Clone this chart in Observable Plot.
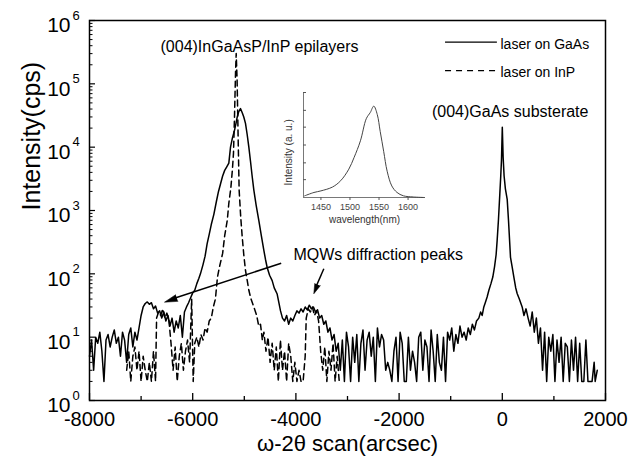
<!DOCTYPE html>
<html>
<head>
<meta charset="utf-8">
<script src="https://cdn.jsdelivr.net/npm/d3@7"></script>
<script src="https://cdn.jsdelivr.net/npm/@observablehq/plot@0.6"></script>
<style>
  html, body { margin: 0; padding: 0; background: #fff; }
  #wrap { position: relative; width: 641px; height: 466px; overflow: hidden; background: #fff; }
  #inset { position: absolute; left: 265px; top: 78px; }
</style>
</head>
<body>
<div id="wrap"><div id="main"></div><div id="inset"></div></div>
<script>
// ---- data: omega-2theta scan (arcsec, cps) ----
const gaasScan = [
  [-8000,5],[-7960,9],[-7920,3],[-7880,10],[-7840,8],[-7800,12],[-7760,6],[-7720,2],[-7680,9],[-7640,11],
  [-7600,7],[-7560,10],[-7520,13],[-7480,8],[-7440,10],[-7400,5],[-7360,12],[-7320,9],[-7280,4],[-7240,11],
  [-7200,14],[-7160,7],[-7120,12],[-7080,9],
  [-7040,14],[-7000,22],[-6960,30],[-6920,34],[-6880,36],[-6840,33],[-6800,35],[-6760,28],[-6720,31],[-6680,24],
  [-6640,26],[-6600,20],[-6560,25],[-6520,18],[-6480,22],[-6440,15],[-6400,20],[-6360,12],[-6320,18],[-6280,14],
  [-6240,22],[-6200,10],[-6160,25],[-6120,30],[-6080,35],[-6040,42],[-6000,50],
  [-5960,55],[-5920,70],[-5880,85],[-5850,100],[-5800,140],[-5760,190],[-5720,300],[-5680,420],[-5640,600],
  [-5590,870],[-5540,1400],[-5500,2000],[-5460,2650],[-5420,3500],[-5380,4300],[-5340,4900],[-5300,5600],
  [-5267,10000],[-5230,14000],[-5190,18400],[-5160,24000],[-5138,29700],[-5110,36000],[-5074,40600],
  [-5040,35000],[-5010,30000],[-4977,23700],[-4945,16000],[-4912,10000],[-4880,6000],[-4850,3600],[-4815,2100],
  [-4770,1200],[-4718,690],[-4670,400],[-4621,235],[-4590,170],[-4557,126],[-4510,95],[-4460,78],[-4420,60],
  [-4363,48],[-4330,35],[-4298,26],[-4260,20],[-4220,18],[-4180,22],[-4140,16],[-4100,20],[-4060,18],
  [-4020,22],[-3980,26],[-3940,24],[-3900,28],[-3860,25],[-3820,30],[-3780,27],[-3740,32],[-3700,28],[-3660,30],
  [-3620,25],[-3580,27],[-3540,20],[-3500,22],[-3460,16],[-3420,18],[-3380,12],[-3340,14],[-3300,9],[-3260,11],
  [-3220,6],[-3180,8],[-3140,3],
  [-3100,9],[-3060,2],[-3020,12],[-2980,7],[-2940,2],[-2900,10],[-2860,4],[-2820,11],[-2780,2],[-2740,8],
  [-2700,13],[-2660,3],[-2620,9],[-2580,12],[-2540,5],[-2500,10],[-2460,2],[-2420,14],[-2380,7],[-2340,11],
  [-2300,9],[-2260,3],[-2220,4],[-2180,3],[-2140,2],[-2100,6],[-2060,10],[-2020,2],[-1980,12],[-1940,8],
  [-1900,2],[-1860,2],[-1820,10],[-1780,3],[-1740,6],[-1700,4],[-1660,2],[-1620,10],[-1580,12],[-1540,3],
  [-1500,9],[-1460,7],[-1420,2],[-1380,13],[-1340,6],[-1300,2],[-1260,11],[-1220,4],[-1180,3],[-1140,10],
  [-1100,2],[-1060,12],[-1020,9],[-980,14],[-940,6],[-900,11],[-860,8],[-820,15],[-780,10],[-740,12],
  [-700,9],[-660,14],[-620,11],[-580,16],[-540,13],[-500,18],[-455,20],[-420,25],[-390,22],[-358,30],
  [-330,35],[-294,43],[-260,55],[-220,70],[-184,89],[-150,130],[-120,200],[-100,335],[-75,700],[-48,1830],
  [-30,3500],[-16,6200],[0,20700],[16,7000],[35,3500],[60,2200],[95,1500],[120,700],[159,182],[190,130],
  [224,89],[260,60],[288,49],[330,40],[385,30],[420,22],[460,28],[500,20],[540,15],[580,25],
  [620,12],[660,20],[700,8],[740,14],[780,3],[820,12],[860,2],[900,10],[940,6],[980,11],
  [1020,2],[1060,9],[1100,4],[1140,10],[1180,2],[1220,8],[1260,7],[1300,2],[1340,9],[1380,3],
  [1420,10],[1460,2],[1500,8],[1540,2],[1580,2],[1620,9],[1660,2],[1700,2],[1740,2],[1780,4],[1800,2],[1840,3]
];
const inpScan = [
  [-7280,3],[-7240,6],[-7200,2],[-7160,5],[-7120,7],[-7080,3],[-7040,6],[-7000,2],[-6960,5],[-6920,3],
  [-6880,2],[-6840,4],[-6800,2],[-6760,6],[-6720,2],[-6700,20],[-6660,25],[-6620,22],[-6580,28],[-6540,20],
  [-6500,24],[-6460,18],[-6420,8],[-6380,3],[-6340,7],[-6300,2],[-6260,5],[-6220,8],[-6180,3],[-6140,6],
  [-6100,9],[-6060,4],[-6020,40],[-5990,2],[-5960,8],[-5920,10],[-5880,7],[-5840,11],[-5800,9],[-5760,14],
  [-5720,12],[-5680,18],[-5640,20],[-5600,30],[-5560,40],[-5520,89],[-5480,130],[-5420,210],[-5380,400],
  [-5330,700],[-5300,1300],[-5260,2300],[-5230,4500],[-5210,7900],[-5190,30000],[-5170,150000],[-5157,300000],
  [-5140,120000],[-5120,15000],[-5100,2100],[-5070,800],[-5040,380],[-5010,200],[-4977,113],[-4945,80],
  [-4912,55],[-4870,40],[-4815,30],[-4760,22],[-4720,15],[-4686,16],[-4650,9],[-4620,12],[-4580,6],[-4540,10],
  [-4500,4],[-4460,8],[-4420,3],[-4380,7],[-4340,2],[-4300,9],[-4260,3],[-4220,6],[-4180,2],[-4140,8],
  [-4100,5],[-4060,2],[-4020,4],[-3980,2],[-3940,3],[-3900,2],[-3860,2],[-3820,5],[-3800,20],[-3760,28],
  [-3720,25],[-3680,30],[-3640,22],[-3600,26],[-3560,18],[-3520,6],[-3480,3],[-3440,7],[-3400,2],[-3360,6],
  [-3320,3],[-3280,8],[-3240,2],[-3200,5],[-3160,2]
];
// ---- inset: photoluminescence spectrum ----
const plWavelength = [1422,1438,1450,1470,1484,1498,1507,1518,1528,1535,1541,1547,1552,1558,1564,1572,1581,1592,1609,1628];
const plIntensity  = [0.016,0.048,0.063,0.10,0.16,0.27,0.38,0.54,0.75,0.81,0.87,0.79,0.63,0.44,0.25,0.11,0.048,0.016,0.005,0.0];
const plTicksX = [1450, 1500, 1550, 1600];
const plTicksY = [0.17, 0.33, 0.5, 0.67, 0.83, 1.0];
const plDomainX = [1420, 1630];

// ---- axes & labels ----
const xMajorTicks = [-8000, -6000, -4000, -2000, 0, 2000];
const xMinorTicks = [-7000, -5000, -3000, -1000, 1000];
const yExponents = [0, 1, 2, 3, 4, 5, 6];
const seriesNames = ["laser on GaAs", "laser on InP"];
const annotations = ["(004)InGaAsP/InP epilayers", "(004)GaAs substerate", "MQWs diffraction peaks"];
const xTitle = "ω-2θ scan(arcsec)";
const yTitle = "Intensity(cps)";
const insetXTitle = "wavelength(nm)";
const insetYTitle = "Intensity (a. u.)";

const yMajorTicks = yExponents.map(e => 10 ** e);
const yMinorTicks = yExponents.slice(0, -1).flatMap(e => [2,3,4,5,6,7,8,9].map(m => m * 10 ** e));

const FONT = "'Liberation Sans', Arial, Helvetica, sans-serif";

const main = Plot.plot({
  width: 641,
  height: 466,
  marginLeft: 89,
  marginRight: 36,
  marginTop: 20,
  marginBottom: 66,
  style: {fontFamily: FONT, background: "white", overflow: "visible", color: "black"},
  x: {domain: [-8000, 2000]},
  y: {type: "log", domain: [1, 1e6]},
  marks: [
    Plot.frame({stroke: "black", strokeWidth: 1.5}),
    Plot.axisX(xMajorTicks, {tickSize: -7, tickFormat: () => "", label: null, strokeWidth: 1.3}),
    Plot.axisX(xMinorTicks, {tickSize: -4, tickFormat: () => "", label: null, strokeWidth: 1.3}),
    Plot.axisX(xMajorTicks, {tickSize: 0, tickPadding: 11, fontSize: 20, label: null, tickFormat: d => String(d)}),
    Plot.axisY(yMajorTicks, {tickSize: -6, tickFormat: () => "", label: null, strokeWidth: 1.2}),
    Plot.axisY(yMinorTicks, {tickSize: -3.5, tickFormat: () => "", label: null, strokeWidth: 1}),
    Plot.text(yExponents, {y: e => 10 ** e, text: () => "10", frameAnchor: "left", textAnchor: "end", dx: -19, dy: 5, fontSize: 21}),
    Plot.text(yExponents, {y: e => 10 ** e, text: e => String(e), frameAnchor: "left", textAnchor: "start", dx: -17, dy: -5, fontSize: 13}),
    Plot.text([xTitle], {text: d => d, frameAnchor: "bottom", dy: 50, fontSize: 22}),
    Plot.text([yTitle], {text: d => d, frameAnchor: "left", dx: -58, rotate: -90, fontSize: 25}),
    // series
    Plot.line(inpScan, {x: d => d[0], y: d => d[1], stroke: "black", strokeWidth: 1.5, strokeDasharray: "6,4"}),
    Plot.line(gaasScan, {x: d => d[0], y: d => d[1], stroke: "black", strokeWidth: 1.5}),
    // legend
    Plot.ruleY([455000], {x1: -1100, x2: -95, stroke: "black", strokeWidth: 1.3}),
    Plot.ruleY([162000], {x1: -1100, x2: -95, stroke: "black", strokeWidth: 1.3, strokeDasharray: "6,5"}),
    Plot.text([seriesNames[0]], {text: d => d, x: -35, y: 455000, dy: 2, textAnchor: "start", fontSize: 14}),
    Plot.text([seriesNames[1]], {text: d => d, x: -35, y: 162000, dy: 2, textAnchor: "start", fontSize: 14}),
    // annotations
    Plot.text([annotations[0]], {text: d => d, x: -6624, y: 390000, textAnchor: "start", fontSize: 16}),
    Plot.text([annotations[1]], {text: d => d, x: 1670, y: 36600, textAnchor: "end", fontSize: 16}),
    Plot.text([annotations[2]], {text: d => d, x: -4047, y: 202, textAnchor: "start", fontSize: 16}),
    Plot.link([annotations[2]], {x1: -4285, y1: 147, x2: -6400, y2: 40, stroke: "black", strokeWidth: 1.5}),
    Plot.vector([annotations[2]], {x: -6547, y: 35.7, rotate: 251.5, length: 13, r: 3.5, shape: "spike", anchor: "end", fill: "black", stroke: "black", strokeWidth: 0.5}),
    Plot.link([annotations[2]], {x1: -3459, y1: 120, x2: -3620, y2: 60, stroke: "black", strokeWidth: 1.5}),
    Plot.vector([annotations[2]], {x: -3653, y: 48.4, rotate: 202, length: 10, r: 3, shape: "spike", anchor: "end", fill: "black", stroke: "black", strokeWidth: 0.5})
  ]
});
document.getElementById("main").appendChild(main);

const plData = plWavelength.map((w, i) => ({w, v: plIntensity[i]}));
const inset = Plot.plot({
  width: 175,
  height: 155,
  marginLeft: 38,
  marginRight: 15,
  marginTop: 14,
  marginBottom: 36,
  style: {fontFamily: FONT, background: "transparent", overflow: "visible", color: "#444"},
  x: {domain: plDomainX},
  y: {domain: [0, 1]},
  marks: [
    Plot.ruleY([0], {stroke: "#555", strokeWidth: 0.8}),
    Plot.ruleX([plDomainX[0]], {stroke: "#555", strokeWidth: 0.8}),
    Plot.axisX(plTicksX, {tickSize: 3, tickPadding: 3, fontSize: 9, label: null, stroke: "#555", tickFormat: d => String(d)}),
    Plot.axisY(plTicksY, {tickSize: -3, tickFormat: () => "", label: null, stroke: "#555"}),
    Plot.line(plData, {x: "w", y: "v", stroke: "#444", strokeWidth: 1, curve: "catmull-rom"}),
    Plot.text([insetXTitle], {text: d => d, frameAnchor: "bottom", dy: 25, fontSize: 10, fill: "#333"}),
    Plot.text([insetYTitle], {text: d => d, x: plDomainX[0], y: 0.43, dx: -15, rotate: -90, fontSize: 10, fill: "#333"})
  ]
});
document.getElementById("inset").appendChild(inset);
</script>
</body>
</html>
